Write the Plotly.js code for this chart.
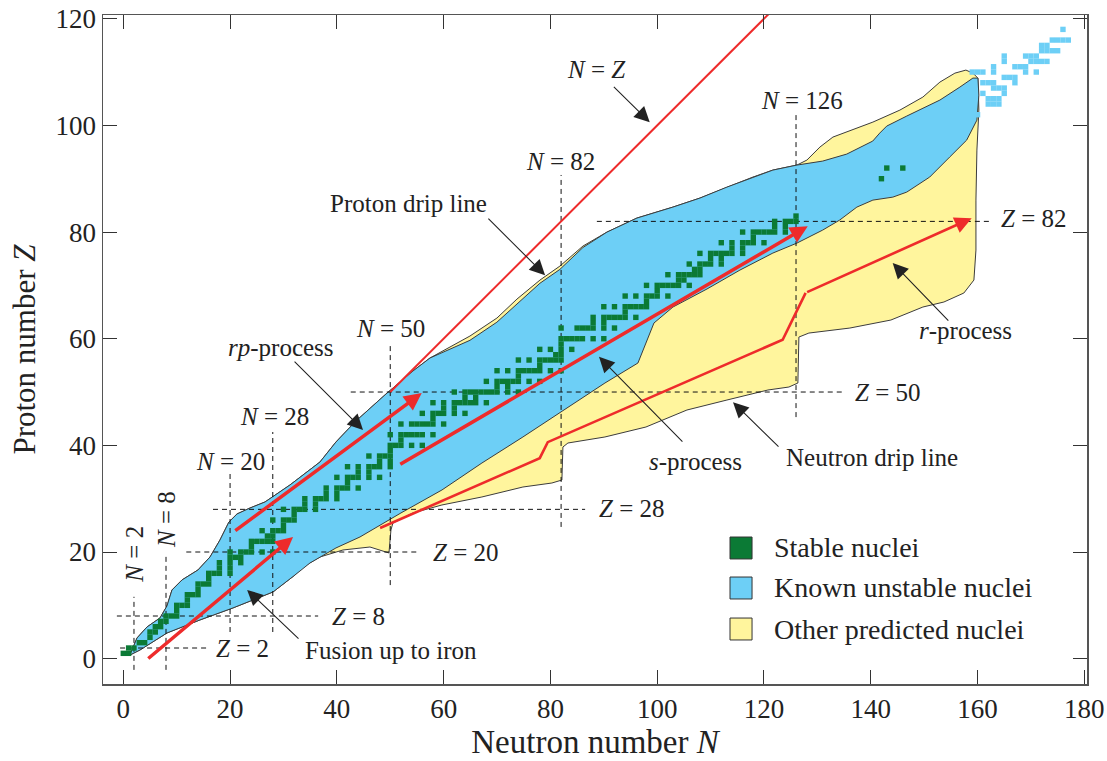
<!DOCTYPE html>
<html><head><meta charset="utf-8">
<script src="https://cdn.plot.ly/plotly-3.0.1.min.js"></script>
<style>html,body{margin:0;padding:0;background:#fff}#chart{width:1107px;height:761px}</style>
</head><body><div id="chart"></div>
<script>
// ---------- DATA ----------
// Proton drip line (upper envelope of predicted nuclei), N and Z
const protonDripN = [1.25,2.57,4.44,6.87,8.18,9.12,10.99,13.99,16.24,18.11,19.79,21.29,23.73,26.54,31.22,36.84,39.83,43.58,49.2,54.25,57.44,61.18,64.93,69.98,73.73,78.04,81.78,86.09,90.59,96.2,102.95,108.0,113.06,117.93,121.67,126.17,128.04,130.48,132.91,137.4,140.4,145.46,149.76,152.95,155.76,157.82,159.13,160.07];
const protonDripZ = [0.69,3.88,5.94,7.63,9.88,12.88,14.76,16.63,19.07,22.25,25.63,27.13,28.25,29.38,32.57,36.88,40.63,44.57,49.63,53.94,56.38,58.44,60.5,63.87,67.43,70.99,73.62,77.37,79.99,82.62,84.68,86.37,88.43,90.31,91.62,92.56,93.5,95.94,97.81,99.5,100.62,102.87,105.31,108.12,109.8,110.37,109.8,108.87];
// Neutron drip line (lower envelope of predicted nuclei)
const neutronDripN = [1.25,3.13,8.18,14.36,20.54,28.04,32.16,33.65,36.84,41.14,46.2,49.76,50.13,50.5,54.25,59.68,67.17,74.85,80.28,82.15,82.34,83.28,90.21,97.89,105.57,113.06,120.74,124.67,126.35,126.54,128.41,136.09,143.77,149.76,153.7,157.44,159.32,159.7,159.7,159.88,160.25,160.07];
const neutronDripZ = [0.69,1.63,4.82,7.26,9.51,12.51,15.69,17.19,19.07,20.38,20.94,19.82,24.13,25.44,27.32,28.82,30.32,32.19,32.94,33.5,39.69,40.44,41.57,43.44,46.63,48.5,50.38,50.94,51.69,60.31,61.06,62.0,63.5,65.94,66.88,68.57,71.0,76.62,85.99,95.37,102.87,108.87];
// Known unstable nuclei region: upper and lower edges
const knownUpperN = [1.25,2.57,4.44,6.87,8.18,9.12,10.99,13.99,16.24,18.11,19.79,21.29,23.73,26.54,31.22,36.84,39.83,43.58,49.2,54.25,57.44,64.93,69.98,73.73,78.04,81.78,86.09,90.59,96.2,102.95,108.0,113.06,117.93,121.67,126.17,131.0,135.5,140.37,141.68,142.99,146.74,152.95,156.7,159.13,160.07];
const knownUpperZ = [0.69,3.88,5.94,7.63,9.88,12.88,14.76,16.63,19.07,22.25,25.63,27.13,28.25,29.38,32.57,36.88,40.63,44.57,49.63,53.94,56.38,59.7,63.1,66.5,70.4,73.0,77.1,79.99,82.62,84.68,86.37,88.43,90.31,91.62,92.56,93.31,94.62,97.06,98.56,99.87,101.75,104.75,107.19,108.87,108.87];
const knownLowerN = [1.25,3.13,8.18,14.36,20.54,28.04,32.16,34.96,39.83,44.33,52.0,59.68,67.17,74.85,82.53,90.21,96.39,97.89,99.39,102.95,109.32,115.5,121.67,126.17,131.0,134.18,137.4,140.4,144.14,146.74,151.04,154.78,157.97,159.88,160.25,160.07];
const knownLowerZ = [0.69,1.63,4.82,7.26,9.51,12.51,15.69,17.94,20.76,22.82,27.32,31.63,36.69,41.57,46.63,51.69,55.44,59.19,62.94,65.94,69.32,72.87,76.06,77.93,80.37,82.25,84.68,85.99,86.55,87.49,90.31,94.06,97.25,100.99,105.68,108.87];

// Stable nuclei: proton numbers and the neutron numbers of their stable isotopes
const stableZ = [1,2,3,4,5,6,7,8,9,10,11,12,13,14,15,16,17,18,19,20,21,22,23,24,25,26,27,28,29,30,31,32,33,34,35,36,37,38,39,40,41,42,44,45,46,47,48,49,50,51,52,53,54,55,56,57,58,59,60,62,63,64,65,66,67,68,69,70,71,72,73,74,75,76,77,78,79,80,81,82,83,90,92];
const stableNs = [[0,1],[1,2],[3,4],[5],[5,6],[6,7],[7,8],[8,9,10],[10],[10,11,12],
[12],[12,13,14],[14],[14,15,16],[16],[16,17,18,20],[18,20],[18,20,22],[20,21,22],[20,22,23,24,26,28],
[24],[24,25,26,27,28],[27,28],[26,28,29,30],[30],[28,30,31,32],[32],[30,32,33,34,36],[34,36],[34,36,37,38,40],
[38,40],[38,40,41,42,44],[42],[40,42,43,44,46,48],[44,46],[42,44,46,47,48,50],[48,50],[46,48,49,50],[50],[50,51,52,54,56],
[52],[50,52,53,54,55,56,58],[52,54,55,56,57,58,60],[58],[56,58,59,60,62,64],[60,62],[58,60,62,63,64,65,66,68],[64,66],[62,64,65,66,67,68,69,70,72,74],[70,72],
[68,70,71,72,73,74,76,78],[74],[70,72,74,75,76,77,78,80,82],[78],[74,76,78,79,80,81,82],[81,82],[78,80,82,84],[82],[82,83,84,85,86,88,90],[82,85,86,87,88,90,92],
[88,90],[88,90,91,92,93,94,96],[94],[90,92,94,95,96,97,98],[98],[94,96,98,99,100,102],[100],[98,100,101,102,103,104,106],[104,105],[102,104,105,106,107,108],
[107,108],[106,108,109,110,112],[110,112],[108,110,111,112,113,114,116],[114,116],[112,114,116,117,118,120],[118],[116,118,119,120,121,122,124],[122,124],[122,124,125,126],
[126],[142],[143,146]];

// Known superheavy nuclei beyond the drip-line region
const heavyZ = [102,104,105,106,107,108,109,110,111,112,113,114,115,116,118];
const heavyNs = [[160],[162,163,164],[162,163,164],[161,165],[163,164,165],[161,162,163,167],[165,166,167],[159,160,161,163,169,171],[163,167,168,169],[165,170,171,172,173],[165,169,170,171],[172,173,174,175],[172,173],[174,175,176,177],[176]];

// Magic numbers and the extent of their dashed guide lines
const magicN = [2,8,20,28,50,82,126];
const magicNZfrom = [-2.1,-2.1,5,5,13.8,24.7,45.3];
const magicNZto = [11.6,19.8,34.8,42.5,58.8,90.7,102];
const magicZ = [2,8,20,28,50,82];
const magicZNfrom = [-0.6,-1.2,11.8,16.8,42.6,88.7];
const magicZNto = [15.7,36.5,55.6,86.5,135,162.3];

// Process paths (N, Z)
const nEqualsZN = [50,121];
const nEqualsZZ = [50,121];
const fusionN = [4.4,31.8];   const fusionZ = [-0.2,22.8];
const rpN = [20.7,55.9];      const rpZ = [23.8,49.8];
const sN = [51.6,128.2];      const sZ = [36.3,81.1];
const rN = [48.1,78.0,79.5,123.5,127.8,158.9];
const rZ = [24.5,37.6,40.6,59.8,68.6,82.6];

// ---------- BUILD ----------
function expand(zs, ns){ const X=[],Y=[]; zs.forEach((z,i)=>ns[i].forEach(n=>{X.push(n);Y.push(z);})); return [X,Y]; }
const [stN, stZ] = expand(stableZ, stableNs);
const [hvN, hvZ] = expand(heavyZ, heavyNs);

const BLUE='#6dcff6', YEL='#fff59d', GREEN='#0b7a35', RED='#ee2b2b', EDGE='#3c3c3c';
const FONT='Liberation Serif, Times New Roman, serif';
const LBL=25;

const dashX=[],dashY=[];
magicN.forEach((n,i)=>{dashX.push(n,n,null);dashY.push(magicNZfrom[i],magicNZto[i],null);});
magicZ.forEach((z,i)=>{dashX.push(magicZNfrom[i],magicZNto[i],null);dashY.push(z,z,null);});

const traces = [
 {x: protonDripN.concat(neutronDripN.slice().reverse()), y: protonDripZ.concat(neutronDripZ.slice().reverse()),
  mode:'lines', fill:'toself', fillcolor:YEL, line:{color:EDGE,width:1}, hoverinfo:'skip'},
 {x: knownUpperN.concat(knownLowerN.slice().reverse()), y: knownUpperZ.concat(knownLowerZ.slice().reverse()),
  mode:'lines', fill:'toself', fillcolor:BLUE, line:{color:EDGE,width:1}, hoverinfo:'skip'},
 {x: hvN, y: hvZ, mode:'markers', marker:{symbol:'square', size:5.4, color:BLUE, line:{width:0}}, hoverinfo:'skip'},
 {x: dashX, y: dashY, mode:'lines', line:{color:'#111', width:1, dash:'5px,4px'}, hoverinfo:'skip', connectgaps:false},
 {x: stN, y: stZ, mode:'markers', marker:{symbol:'square', size:5.4, color:GREEN, line:{width:0}}, hoverinfo:'skip'},
 {x: nEqualsZN, y: nEqualsZZ, mode:'lines', line:{color:RED, width:2}, hoverinfo:'skip'},
 {x: rN.slice(0,-1), y: rZ.slice(0,-1), mode:'lines', line:{color:RED, width:2.6}, hoverinfo:'skip'}
];

const ann = [];
function txt(t, n, z, extra){ ann.push(Object.assign({x:n,y:z,xref:'x',yref:'y',text:t,showarrow:false,font:{family:FONT,size:LBL,color:'#222'}},extra||{})); }
function arrow(n0,z0,n1,z1,color,width,size){ ann.push({x:n1,y:z1,ax:n0,ay:z0,xref:'x',yref:'y',axref:'x',ayref:'y',text:'',showarrow:true,arrowhead:2,arrowsize:size,arrowwidth:width,arrowcolor:color,standoff:0}); }

// magic-number labels
txt('<i>N</i> = 2', 2.1, 19.6, {textangle:-90});
txt('<i>N</i> = 8', 8.0, 26.0, {textangle:-90});
txt('<i>N</i> = 20', 20.0, 36.9);
txt('<i>N</i> = 28', 28.4, 45.4);
txt('<i>N</i> = 50', 50.0, 62.0);
txt('<i>N</i> = 82', 81.8, 93.3);
txt('<i>N</i> = 126', 127.2, 104.7);
txt('<i>N</i> = <i>Z</i>', 88.7, 110.4);
txt('<i>Z</i> = 2', 22.4, 2.0);
txt('<i>Z</i> = 8', 44.0, 8.0);
txt('<i>Z</i> = 20', 64.2, 20.0);
txt('<i>Z</i> = 28', 95.3, 28.1);
txt('<i>Z</i> = 50', 143.2, 50.0);
txt('<i>Z</i> = 82', 170.6, 82.6);
// process labels
txt('Proton drip line', 53.4, 85.4);
txt('<i>rp</i>-process', 29.6, 58.4);
txt('<i>s</i>-process', 107.1, 36.9);
txt('Neutron drip line', 140.2, 37.8);
txt('<i>r</i>-process', 157.8, 61.6);
txt('Fusion up to iron', 50.2, 1.6);
// black pointer arrows
arrow(91.6,107.5,98.6,100.6,'#222',1.1,2.8);
arrow(68.1,82.8,79.0,71.9,'#222',1.1,2.8);
arrow(31.8,56.0,44.9,42.9,'#222',1.1,2.8);
arrow(105.0,40.4,89.1,56.6,'#222',1.1,2.8);
arrow(123.0,39.5,114.2,48.1,'#222',1.1,2.8);
arrow(154.8,63.1,144.1,74.2,'#222',1.1,2.8);
arrow(33.1,3.5,23.2,12.9,'#222',1.1,2.8);
// red process arrows
arrow(fusionN[0],fusionZ[0],fusionN[1],fusionZ[1],RED,3.5,1);
arrow(rpN[0],rpZ[0],rpN[1],rpZ[1],RED,3.5,1);
arrow(sN[0],sZ[0],sN[1],sZ[1],RED,3.5,1);
arrow(rN[rN.length-2],rZ[rZ.length-2],rN[rN.length-1],rZ[rZ.length-1],RED,2.6,1.3);

// legend (manual)
const legItems = [['Stable nuclei',GREEN],['Known unstable nuclei',BLUE],['Other predicted nuclei',YEL]];
const legY = [0.2033,0.1435,0.0822];
const shapes = [];
legItems.forEach((it,i)=>{
  shapes.push({type:'rect',xref:'paper',yref:'paper',x0:0.6372,x1:0.6596,y0:legY[i]-0.0164,y1:legY[i]+0.0164,fillcolor:it[1],line:{color:'#333',width:1}});
  ann.push({xref:'paper',yref:'paper',x:0.6799,y:legY[i],xanchor:'left',yanchor:'middle',text:it[0],showarrow:false,font:{family:FONT,size:28,color:'#222'}});
});

const axisCommon = {ticks:'inside', ticklen:14, tickwidth:1, tickcolor:'#333', showline:true, linecolor:'#555', linewidth:1.5,
  mirror:'ticks', showgrid:false, zeroline:false, tickfont:{family:FONT,size:27,color:'#222'}};
const layout = {
  width:1107, height:761, margin:{l:103,r:20,t:15,b:77},
  paper_bgcolor:'#fff', plot_bgcolor:'#fff', showlegend:false,
  font:{family:FONT,color:'#222'},
  xaxis:Object.assign({range:[-3.8,180.5], tickvals:[0,20,40,60,80,100,120,140,160,180],
     title:{text:'Neutron number <i>N</i>', font:{family:FONT,size:33,color:'#222'}, standoff:6}}, axisCommon),
  yaxis:Object.assign({range:[-4.75,120.7], tickvals:[0,20,40,60,80,100,120],
     title:{text:'Proton number <i>Z</i>', font:{family:FONT,size:31,color:'#222'}, standoff:10}}, axisCommon),
  annotations:ann, shapes:shapes
};
Plotly.newPlot('chart', traces, layout, {staticPlot:true, displayModeBar:false});
</script></body></html>
